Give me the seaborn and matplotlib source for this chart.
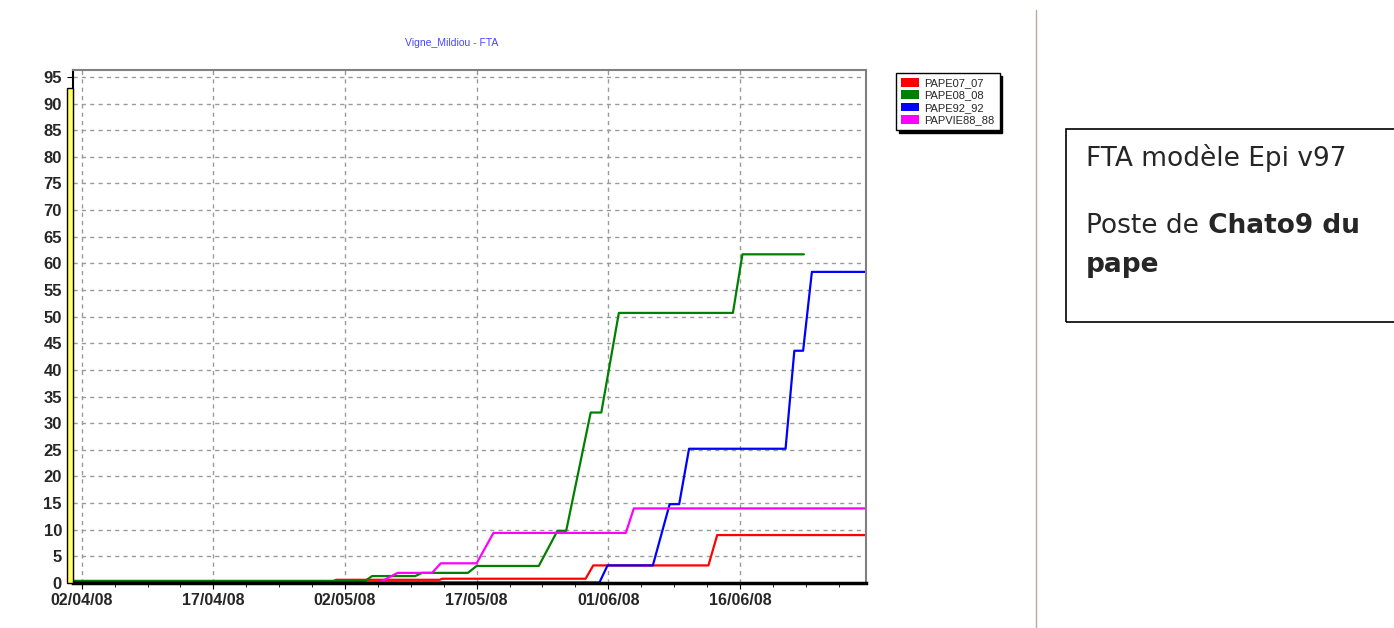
import pandas as pd
import matplotlib
matplotlib.use("Agg")
import matplotlib.pyplot as plt
import matplotlib.dates as mdates
from matplotlib.patches import Patch, Rectangle
from matplotlib.lines import Line2D
import seaborn as sns

SERIES = ["PAPE07_07", "PAPE08_08", "PAPE92_92", "PAPVIE88_88"]
COLORS = ["#ff0000", "#008000", "#0000ff", "#ff00ff"]

pape07_dates = ["2008-04-01 00:00", "2008-04-30 14:00", "2008-05-01 00:00",
                "2008-05-12 19:00", "2008-05-13 02:00", "2008-05-29 10:00",
                "2008-05-30 07:00", "2008-06-12 10:00", "2008-06-13 10:00",
                "2008-06-30 09:00"]
pape07_vals = [0.3, 0.3, 0.6, 0.6, 0.8, 0.8, 3.3, 3.3, 9.0, 9.0]

pape08_dates = ["2008-04-01 00:00", "2008-05-04 07:00", "2008-05-05 02:00",
                "2008-05-10 00:00", "2008-05-10 19:00", "2008-05-16 00:00",
                "2008-05-17 00:00", "2008-05-24 02:00", "2008-05-26 05:00",
                "2008-05-27 05:00", "2008-05-30 00:00", "2008-05-31 05:00",
                "2008-06-02 05:00", "2008-06-15 05:00", "2008-06-16 07:00",
                "2008-06-23 07:00"]
pape08_vals = [0.4, 0.4, 1.3, 1.3, 1.9, 1.9, 3.2, 3.2, 9.8, 9.8,
               32.0, 32.0, 50.7, 50.7, 61.7, 61.7]

pape92_dates = ["2008-04-01 00:00", "2008-05-31 00:00", "2008-05-31 22:00",
                "2008-06-06 02:00", "2008-06-08 00:00", "2008-06-09 02:00",
                "2008-06-10 05:00", "2008-06-21 05:00", "2008-06-22 05:00",
                "2008-06-23 05:00", "2008-06-24 05:00", "2008-06-30 09:00"]
pape92_vals = [0.1, 0.1, 3.3, 3.3, 14.8, 14.8, 25.2, 25.2, 43.6, 43.6,
               58.4, 58.4]

papvie88_dates = ["2008-04-01 00:00", "2008-05-05 19:00", "2008-05-08 00:00",
                  "2008-05-11 22:00", "2008-05-12 22:00", "2008-05-17 00:00",
                  "2008-05-18 22:00", "2008-06-03 00:00", "2008-06-03 22:00",
                  "2008-06-30 09:00"]
papvie88_vals = [0.0, 0.0, 1.9, 1.9, 3.7, 3.7, 9.4, 9.4, 14.0, 14.0]

Y_TICKS = list(range(0, 100, 5))
X_MAJOR = ["2008-04-02", "2008-04-17", "2008-05-02", "2008-05-17",
           "2008-06-01", "2008-06-16"]

frames = []
for name, d, v in zip(SERIES,
                      [pape07_dates, pape08_dates, pape92_dates, papvie88_dates],
                      [pape07_vals, pape08_vals, pape92_vals, papvie88_vals]):
    frames.append(pd.DataFrame({"date": pd.to_datetime(d), "value": v,
                                "series": name}))
df = pd.concat(frames, ignore_index=True)

sns.set_style("white")
plt.rcParams["font.family"] = ["Liberation Sans", "DejaVu Sans"]

W, H = 1394, 628
fig = plt.figure(figsize=(W / 100, H / 100), dpi=100)
ax = fig.add_axes([73 / W, 1 - 583 / H, (866 - 73) / W, (583 - 70) / H])

sns.lineplot(data=df, x="date", y="value", hue="series", hue_order=SERIES,
             palette=COLORS, estimator=None, sort=False, linewidth=1.6,
             legend=False, ax=ax)

ax.set_xlim(pd.Timestamp("2008-04-01 00:00"), pd.Timestamp("2008-06-30 09:00"))
ax.set_ylim(0, 96.3)
ax.set_yticks(Y_TICKS)
ax.set_xticks(pd.to_datetime(X_MAJOR))
ax.set_xticks(pd.date_range("2008-04-02", "2008-06-30", freq="90h"), minor=True)
ax.xaxis.set_major_formatter(mdates.DateFormatter("%d/%m/%y"))
ax.set_xlabel("")
ax.set_ylabel("")
ax.grid(True, which="major", linestyle=(0, (3, 3)), color="#9a9a9a",
        linewidth=1)
ax.tick_params(axis="both", which="both", direction="out", color="black",
               left=True, bottom=True)
ax.tick_params(axis="y", length=4, labelsize=12, pad=4)
ax.tick_params(axis="x", which="major", length=4, labelsize=11.5, pad=3)
ax.tick_params(axis="x", which="minor", length=3)
for lab in ax.get_xticklabels() + ax.get_yticklabels():
    lab.set_fontweight("bold")
ax.spines["left"].set_color("black")
ax.spines["left"].set_linewidth(1.5)
ax.spines["bottom"].set_color("black")
ax.spines["bottom"].set_linewidth(2.5)
for s in ["top", "right"]:
    ax.spines[s].set_color("#808080")
    ax.spines[s].set_linewidth(1.5)

# yellow 3D wall on the left
fig.add_artist(Rectangle((67 / W, 1 - 583 / H), 6 / W, (583 - 88) / H,
                         transform=fig.transFigure, facecolor="#ffff66",
                         edgecolor="black", linewidth=1))

fig.text(452 / W, 1 - 43 / H, "Vigne_Mildiou - FTA", color="#4646ff",
         fontsize=7.5, ha="center", va="center")

handles = [Patch(facecolor=c, edgecolor="none") for c in COLORS]
fig.legend(handles, SERIES, loc="upper left",
           bbox_to_anchor=(896 / W, 1 - 73 / H), frameon=True, fancybox=False,
           shadow={"color": "black", "alpha": 1}, edgecolor="black",
           fontsize=8, handlelength=1.6, handleheight=0.8, borderpad=0.45,
           labelspacing=0.2, handletextpad=0.5, borderaxespad=0,
           framealpha=1)

# right-hand annotation panel
fig.add_artist(Line2D([1036 / W, 1036 / W], [0, 1 - 10 / H],
                      transform=fig.transFigure, color="#b5ad9e", lw=1))
fig.add_artist(Rectangle((1066 / W, 1 - 322 / H), 340 / W, 193 / H,
                         transform=fig.transFigure, fill=False,
                         edgecolor="black", linewidth=1.2))
fs = 19
fam = ["DejaVu Sans"]
fig.text(1086 / W, 1 - 158 / H, "FTA modèle Epi v97", fontsize=fs,
         family=fam, va="center")
t = fig.text(1086 / W, 1 - 226 / H, "Poste de", fontsize=fs, family=fam,
             va="center")
ax.annotate(" Chato9 du", xy=(1, 0), xycoords=t, va="bottom", ha="left",
            fontsize=fs, family=fam, fontweight="bold", annotation_clip=False)
fig.text(1086 / W, 1 - 265 / H, "pape", fontsize=fs, family=fam,
         fontweight="bold", va="center")

fig.savefig("out.png", dpi=100)
